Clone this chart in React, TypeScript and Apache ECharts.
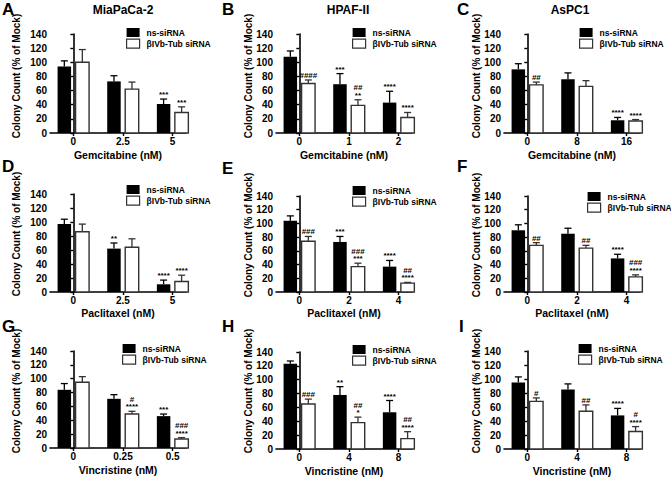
import React, { useEffect, useRef } from "react";
import * as echarts from "echarts";

const FONT = '"Liberation Sans", Arial, Helvetica, sans-serif';

const seriesNames = ["ns-siRNA", "βIVb-Tub siRNA"];
const yAxisTitle = "Colony Count (% of Mock)";

// Panel A – MiaPaCa-2, Gemcitabine
const catsA = ["0", "2.5", "5"];
const nsA = [94, 73, 41];
const nsErrA = [8, 8, 7];
const tubA = [100, 62, 29];
const tubErrA = [18, 10, 8];
const nsSigA = ["", "", "***"];
const tubSigA = ["", "", "***"];

// Panel B – HPAF-II, Gemcitabine
const catsB = ["0", "1", "2"];
const nsB = [108, 69, 43];
const nsErrB = [8, 15, 16];
const tubB = [70, 39, 22];
const tubErrB = [5, 8, 7];
const nsSigB = ["", "***", "****"];
const tubSigB = ["####", "##\n**", "****"];

// Panel C – AsPC1, Gemcitabine
const catsC = ["0", "8", "16"];
const nsC = [90, 76, 18];
const nsErrC = [8, 9, 4];
const tubC = [68, 66, 17];
const tubErrC = [4, 8, 2];
const nsSigC = ["", "", "****"];
const tubSigC = ["##", "", "****"];

// Panel D – MiaPaCa-2, Paclitaxel
const catsD = ["0", "2.5", "5"];
const nsD = [97, 62, 11];
const nsErrD = [7, 8, 6];
const tubD = [86, 64, 15];
const tubErrD = [11, 12, 9];
const nsSigD = ["", "**", "****"];
const tubSigD = ["", "", "****"];

// Panel E – HPAF-II, Paclitaxel
const catsE = ["0", "2", "4"];
const nsE = [104, 73, 37];
const nsErrE = [7, 8, 9];
const tubE = [74, 37, 13];
const tubErrE = [7, 5, 1];
const nsSigE = ["", "***", "****"];
const tubSigE = ["###", "###\n***", "##\n****"];

// Panel F – AsPC1, Paclitaxel
const catsF = ["0", "2", "4"];
const nsF = [90, 85, 49];
const nsErrF = [8, 8, 6];
const tubF = [68, 64, 22];
const tubErrF = [4, 4, 3];
const nsSigF = ["", "", "****"];
const tubSigF = ["##", "##", "###\n****"];

// Panel G – MiaPaCa-2, Vincristine
const catsG = ["0", "0.25", "0.5"];
const nsG = [84, 71, 46];
const nsErrG = [9, 6, 3];
const tubG = [95, 49, 13];
const tubErrG = [8, 4, 2];
const nsSigG = ["", "", "***"];
const tubSigG = ["", "#\n****", "###\n****"];

// Panel H – HPAF-II, Vincristine
const catsH = ["0", "4", "8"];
const nsH = [123, 78, 53];
const nsErrH = [4, 12, 17];
const tubH = [65, 38, 15];
const tubErrH = [7, 8, 10];
const nsSigH = ["", "**", "****"];
const tubSigH = ["###", "##\n*", "##\n****"];

// Panel I – AsPC1, Vincristine
const catsI = ["0", "4", "8"];
const nsI = [95, 85, 48];
const nsErrI = [8, 8, 10];
const tubI = [68, 54, 25];
const tubErrI = [5, 9, 7];
const nsSigI = ["", "", "****"];
const tubSigI = ["#", "##", "#\n****"];

const panels = [
  { letter: "A", title: "MiaPaCa-2", xName: "Gemcitabine (nM)", cats: catsA, ns: nsA, nsErr: nsErrA, tub: tubA, tubErr: tubErrA, nsSig: nsSigA, tubSig: tubSigA },
  { letter: "B", title: "HPAF-II", xName: "Gemcitabine (nM)", cats: catsB, ns: nsB, nsErr: nsErrB, tub: tubB, tubErr: tubErrB, nsSig: nsSigB, tubSig: tubSigB },
  { letter: "C", title: "AsPC1", xName: "Gemcitabine (nM)", cats: catsC, ns: nsC, nsErr: nsErrC, tub: tubC, tubErr: tubErrC, nsSig: nsSigC, tubSig: tubSigC },
  { letter: "D", title: "", xName: "Paclitaxel (nM)", cats: catsD, ns: nsD, nsErr: nsErrD, tub: tubD, tubErr: tubErrD, nsSig: nsSigD, tubSig: tubSigD },
  { letter: "E", title: "", xName: "Paclitaxel (nM)", cats: catsE, ns: nsE, nsErr: nsErrE, tub: tubE, tubErr: tubErrE, nsSig: nsSigE, tubSig: tubSigE },
  { letter: "F", title: "", xName: "Paclitaxel (nM)", cats: catsF, ns: nsF, nsErr: nsErrF, tub: tubF, tubErr: tubErrF, nsSig: nsSigF, tubSig: tubSigF },
  { letter: "G", title: "", xName: "Vincristine (nM)", cats: catsG, ns: nsG, nsErr: nsErrG, tub: tubG, tubErr: tubErrG, nsSig: nsSigG, tubSig: tubSigG },
  { letter: "H", title: "", xName: "Vincristine (nM)", cats: catsH, ns: nsH, nsErr: nsErrH, tub: tubH, tubErr: tubErrH, nsSig: nsSigH, tubSig: tubSigH },
  { letter: "I", title: "", xName: "Vincristine (nM)", cats: catsI, ns: nsI, nsErr: nsErrI, tub: tubI, tubErr: tubErrI, nsSig: nsSigI, tubSig: tubSigI },
];

// Layout (pixels)
const layouts = [
  { left: 50, top: 34, bottom: 133, legend: [126, 28], letter: [2, 1], titleX: 123, xNameGap: 16, yTitle: [16, 76] },
  { left: 276, top: 34, bottom: 133, legend: [352, 28], letter: [222, 1], titleX: 348, xNameGap: 16, yTitle: [248, 76] },
  { left: 504, top: 34, bottom: 133, legend: [579, 28], letter: [457, 1], titleX: 570, xNameGap: 16, yTitle: [476, 76] },
  { left: 50, top: 194, bottom: 292, legend: [126, 185], letter: [2, 158], titleX: 0, xNameGap: 15, yTitle: [16, 234] },
  { left: 276, top: 196, bottom: 292, legend: [352, 186], letter: [222, 160], titleX: 0, xNameGap: 15, yTitle: [248, 235] },
  { left: 504, top: 196, bottom: 292, legend: [587, 192], letter: [457, 158], titleX: 0, xNameGap: 15, yTitle: [476, 235] },
  { left: 50, top: 351, bottom: 448, legend: [122, 344], letter: [2, 318], titleX: 0, xNameGap: 16, yTitle: [16, 391] },
  { left: 276, top: 352, bottom: 449, legend: [352, 345], letter: [222, 318], titleX: 0, xNameGap: 16, yTitle: [248, 391] },
  { left: 504, top: 351, bottom: 449, legend: [578, 344], letter: [459, 318], titleX: 0, xNameGap: 16, yTitle: [476, 391] },
];
const X_MIN = -0.47;
const X_MAX = 2.27;
const GRID_W = 136;
const BAR_W = 13.5;
const BAR_OFF = 9;

function makeRender(side: number, sig: string[]) {
  return (params: any, api: any) => {
    const idx = api.value(0);
    const v = api.value(1);
    const e = api.value(2);
    const base = api.coord([idx, 0]);
    const top = api.coord([idx, v]);
    const et = api.coord([idx, v + e]);
    const cx = base[0] + side * BAR_OFF;
    const isNs = side < 0;
    const stroke = isNs ? "#000" : "#333";
    const children: any[] = [
      {
        type: "rect",
        shape: { x: cx - BAR_W / 2, y: top[1], width: BAR_W, height: base[1] - top[1] },
        style: { fill: isNs ? "#000" : "#fff", stroke: isNs ? "#000" : stroke, lineWidth: isNs ? 0 : 1.4 },
      },
      { type: "line", shape: { x1: cx, y1: top[1], x2: cx, y2: et[1] }, style: { stroke, lineWidth: 1.3 } },
      { type: "line", shape: { x1: cx - 3.5, y1: et[1], x2: cx + 3.5, y2: et[1] }, style: { stroke, lineWidth: 1.3 } },
    ];
    const lines = (sig[params.dataIndex] || "").split("\n").filter((s) => s.length > 0);
    let y = et[1] - 0.5;
    for (let k = lines.length - 1; k >= 0; k--) {
      children.push({
        type: "text",
        x: cx,
        y,
        style: {
          text: lines[k],
          fill: "#000",
          font: "bold 8px " + FONT,
          align: "center",
          verticalAlign: "bottom",
        },
      });
      y -= 7.5;
    }
    return { type: "group", children };
  };
}

export default function App() {
  const ref = useRef<HTMLDivElement>(null);
  useEffect(() => {
    if (!ref.current) return;
    const chart = echarts.init(ref.current, null, { renderer: "svg" });

    const grid = layouts.map((l) => ({
      left: l.left,
      top: l.top,
      width: GRID_W,
      height: l.bottom - l.top,
      containLabel: false,
    }));

    const xAxis = panels.map((p, i) => ({
      type: "value",
      gridIndex: i,
      min: X_MIN,
      max: X_MAX,
      name: p.xName,
      nameLocation: "middle",
      nameGap: layouts[i].xNameGap,
      nameTextStyle: { fontSize: 10.5, fontWeight: "bold", fontFamily: FONT, color: "#000" },
      axisLine: { show: true, onZero: false, lineStyle: { color: "#000", width: 1.6 } },
      axisTick: { show: true, length: 3, customValues: [0, 1, 2], lineStyle: { color: "#000", width: 1.4 } },
      axisLabel: {
        customValues: [0, 1, 2],
        formatter: (v: number) => p.cats[Math.round(v)] ?? "",
        fontSize: 10,
        fontWeight: "bold",
        fontFamily: FONT,
        color: "#000",
        margin: 3,
      },
      splitLine: { show: false },
    }));

    const yAxis = panels.map((p, i) => ({
      type: "value",
      gridIndex: i,
      min: 0,
      max: 140,
      interval: 20,
      axisLine: { show: true, lineStyle: { color: "#000", width: 1.6 } },
      axisTick: { show: true, length: 3, lineStyle: { color: "#000", width: 1.4 } },
      axisLabel: { fontSize: 10, fontWeight: "bold", fontFamily: FONT, color: "#000", margin: 3 },
      splitLine: { show: false },
    }));

    const series: any[] = [];
    panels.forEach((p, i) => {
      series.push({
        type: "custom",
        name: seriesNames[0],
        coordinateSystem: "cartesian2d",
        xAxisIndex: i,
        yAxisIndex: i,
        encode: { x: 0, y: 1 },
        data: p.ns.map((v, k) => [k, v, p.nsErr[k]]),
        renderItem: makeRender(-1, p.nsSig),
        itemStyle: { color: "#000" },
      });
      series.push({
        type: "custom",
        name: seriesNames[1],
        coordinateSystem: "cartesian2d",
        xAxisIndex: i,
        yAxisIndex: i,
        encode: { x: 0, y: 1 },
        data: p.tub.map((v, k) => [k, v, p.tubErr[k]]),
        renderItem: makeRender(1, p.tubSig),
        itemStyle: { color: "#000" },
      });
    });

    const legend = layouts.map((l) => ({
      left: l.legend[0],
      top: l.legend[1],
      orient: "vertical",
      padding: 0,
      itemGap: 1.5,
      itemWidth: 13,
      itemHeight: 9,
      icon: "rect",
      selectedMode: false,
      textStyle: { fontSize: 8.5, fontWeight: "bold", fontFamily: FONT, color: "#000", padding: [0, 0, 0, 2] },
      data: [
        { name: seriesNames[0], itemStyle: { color: "#000", borderWidth: 0 } },
        { name: seriesNames[1], itemStyle: { color: "#fff", borderColor: "#333", borderWidth: 1.2 } },
      ],
    }));

    const graphic: any[] = [];
    panels.forEach((p, i) => {
      const l = layouts[i];
      graphic.push({
        type: "text",
        x: l.letter[0],
        y: l.letter[1],
        style: { text: p.letter, font: "bold 17px " + FONT, fill: "#000", verticalAlign: "top" },
      });
      graphic.push({
        type: "text",
        x: l.yTitle[0],
        y: l.yTitle[1],
        rotation: Math.PI / 2,
        style: {
          text: yAxisTitle,
          font: "bold 10px " + FONT,
          fill: "#000",
          align: "center",
          verticalAlign: "middle",
        },
      });
      if (p.title) {
        graphic.push({
          type: "text",
          x: l.titleX,
          y: 4,
          style: {
            text: p.title,
            font: "bold 12px " + FONT,
            fill: "#000",
            align: "center",
            verticalAlign: "top",
          },
        });
      }
    });

    chart.setOption({
      animation: false,
      backgroundColor: "#fff",
      grid,
      xAxis,
      yAxis,
      legend,
      graphic,
      series,
    });
    return () => chart.dispose();
  }, []);

  return (
    <div
      ref={ref}
      style={{ position: "absolute", left: 0, top: 0, width: 671, height: 478, background: "#fff" }}
    />
  );
}
